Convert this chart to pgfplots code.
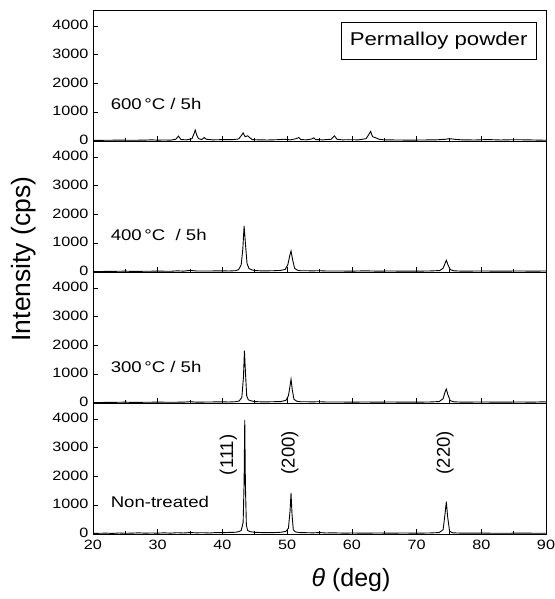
\documentclass[border=0pt]{standalone}
\usepackage{fontspec}
\setmainfont{Liberation Sans}
\newfontfamily\wide{Liberation Sans}[FakeStretch=1.2]
\usepackage{pgfplots}
\pgfplotsset{compat=1.18}

\pgfplotsset{
  panel/.style={
    scale only axis, width=453pt, height=131pt,
    xmin=20, xmax=90, ymin=0, ymax=4550,
    xtick={20,30,...,90}, minor x tick num=1,
    ytick={0,1000,...,4000},
    xtick pos=bottom, ytick pos=left,
    major tick length=5pt, minor tick length=3pt,
    tick style={black, line width=0.6pt},
    axis line style={black, line width=0.8pt},
    ticklabel style={font=\wide\fontsize{13.5}{15}\selectfont},
    /pgf/number format/assume math mode=true,
    /pgf/number format/1000 sep={},
    yticklabel style={xshift=-1pt, yshift=1pt},
    xticklabel style={yshift=-2.5pt},
    anchor=south west, clip=true,
  },
  curve/.style={black, line width=0.9pt, no markers},
}
\tikzset{
  plab/.style={anchor=west, font=\wide\fontsize{15.5}{18}\selectfont},
  hkl/.style={rotate=90, font=\fontsize{18.5}{20}\selectfont},
}

\begin{document}
\begin{tikzpicture}
\useasboundingbox (-93pt,-65pt) rectangle (461pt,534pt);

% ---------------- Non-treated (bottom) ----------------
\begin{axis}[panel, at={(0pt,0pt)}]
\addplot[curve] coordinates {
(20,20) (21,25) (22,30) (23,20) (24,35) (25,25) (26,30) (27,40) (28,30) (29,35)
(30,30) (31,40) (32,30) (33,45) (34,35) (35,50) (36,40) (37,45) (38,35) (39,50)
(40,45) (41,55) (42,60) (42.5,80) (42.9,120) (43.2,400) (43.35,1800) (43.45,3960)
(43.55,1700) (43.7,300) (43.9,120) (44.3,80) (45,60) (46,50) (47,45) (48,50) (49,60)
(49.8,90) (50.2,200) (50.45,800) (50.6,1415) (50.75,700) (50.95,150) (51.3,70)
(52,50) (53,45) (54,40) (55,50) (56,35) (57,40) (58,35) (59,30) (60,35) (62,30)
(64,35) (66,30) (68,35) (70,30) (72,35) (73.5,50) (74.1,150) (74.4,700) (74.6,1120)
(74.8,600) (75.1,100) (75.6,40) (77,30) (80,30) (83,25) (86,30) (90,25)
};
\node[plab] at (axis cs:22.2,1120) {Non-treated};
\node[hkl] at (axis cs:40.9,2750) {(111)};
\node[hkl] at (axis cs:50.4,2820) {(200)};
\node[hkl] at (axis cs:74.4,2820) {(220)};
\end{axis}

% ---------------- 300 C ----------------
\begin{axis}[panel, at={(0pt,131pt)}, xticklabels={}]
\addplot[curve] coordinates {
(20,15) (22,20) (24,25) (25,30) (26,20) (28,25) (30,30) (32,25) (34,30) (35,45)
(36,30) (38,35) (40,40) (41,35) (42,45) (42.6,70) (43.0,200) (43.25,900) (43.4,1820)
(43.55,1100) (43.75,250) (44.0,110) (44.5,70) (45,50) (46,40) (47,40) (48,45)
(49,50) (49.8,90) (50.2,250) (50.45,600) (50.6,825) (50.8,450) (51.05,130) (51.5,60)
(52,45) (54,40) (55,45) (56,35) (58,35) (60,30) (62,35) (64,30) (66,35) (68,30)
(70,30) (72,35) (73.5,50) (74.1,150) (74.4,380) (74.6,487) (74.85,280) (75.2,80)
(75.8,40) (77,30) (80,35) (83,30) (86,35) (88,30) (89.5,40) (90,35)
};
\node[plab] at (axis cs:22.2,1250) {300\,°C / 5h};
\end{axis}

% ---------------- 400 C ----------------
\begin{axis}[panel, at={(0pt,262pt)}, xticklabels={}]
\addplot[curve] coordinates {
(20,15) (22,20) (24,25) (25,30) (26,20) (28,25) (30,30) (32,25) (33,40) (34,30)
(35,55) (36,35) (38,35) (40,40) (41,35) (42,45) (42.5,80) (42.9,250) (43.15,800)
(43.35,1600) (43.55,1000) (43.8,300) (44.1,120) (44.6,70) (45,50) (46,40) (47,40)
(48,45) (49,55) (49.7,90) (50.1,250) (50.4,560) (50.6,730) (50.85,420) (51.15,130)
(51.6,60) (52,45) (54,40) (55,45) (56,35) (58,35) (60,30) (62,40) (64,30) (66,35)
(68,30) (70,30) (72,35) (73.6,50) (74.1,130) (74.4,300) (74.6,407) (74.85,250)
(75.2,80) (75.8,40) (77,30) (80,35) (83,30) (86,35) (88,30) (90,35)
};
\node[plab] at (axis cs:22.2,1280) {400\,°C \ / 5h};
\end{axis}

% ---------------- 600 C (top) ----------------
\begin{axis}[panel, at={(0pt,393pt)}, xticklabels={}]
\addplot[curve] coordinates {
(20,20) (22,25) (24,30) (26,25) (28,30) (29,40) (30,30) (31,35) (32,30) (32.8,60)
(33.2,170) (33.6,50) (34.5,40) (35.3,80) (35.6,250) (35.8,380) (36.0,220) (36.3,80)
(36.8,50) (37.2,120) (37.5,60) (38.5,40) (39.5,45) (40.5,50) (41.5,45) (42.5,70)
(42.9,180) (43.2,280) (43.5,150) (43.9,180) (44.2,120) (44.6,50) (45.5,40) (47,35)
(48.5,45) (49.5,60) (50.5,40) (51.4,80) (51.8,120) (52.1,50) (53,40) (53.8,70)
(54.1,110) (54.4,50) (55.5,40) (56.8,60) (57.3,180) (57.7,60) (58.5,40) (59.5,45)
(61,40) (62.2,80) (62.6,220) (62.9,330) (63.2,150) (63.7,110) (64.2,60) (65,40)
(67,35) (69,30) (71,35) (73,40) (74.5,60) (75,80) (75.5,70) (76,55) (77,40) (79,35)
(81,50) (83,35) (85,45) (87,40) (89,30) (90,25)
};
\node[plab] at (axis cs:22.2,1290) {600\,°C / 5h};
\node[draw=black, line width=0.6pt, fill=white, minimum width=195pt,
      minimum height=37pt, inner sep=0pt, font=\wide\fontsize{18.5}{21}\selectfont]
  at (rel axis cs:0.763,0.767) {Permalloy powder};
\end{axis}

% axis labels
\node[rotate=90, font=\fontsize{26.5}{30}\selectfont] at (-69pt,275pt) {Intensity (cps)};
\node[font=\fontsize{25}{28}\selectfont] at (258pt,-46pt) {\textit{θ} (deg)};
\end{tikzpicture}
\end{document}
